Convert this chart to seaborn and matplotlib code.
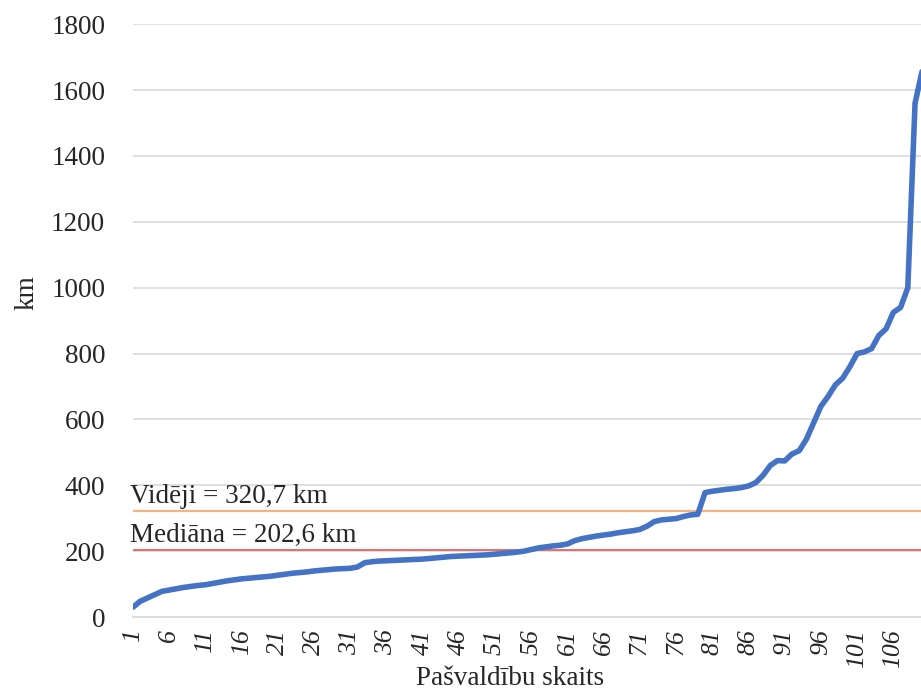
import matplotlib
matplotlib.use('Agg')
import matplotlib.pyplot as plt
import seaborn as sns
import pandas as pd

sns.set_style('white')
plt.rcParams['font.family'] = ['Liberation Serif', 'DejaVu Serif']

# sorted distances per municipality (km)
km = [30, 48, 58, 68, 78, 82, 86, 90, 93, 96,
      98, 102, 106, 110, 113, 116, 118, 120, 122, 124,
      127, 130, 133, 135, 137, 140, 142, 144, 146, 147,
      148, 152, 165, 168, 170, 171, 172, 173, 174, 175,
      176, 178, 180, 182, 184, 185, 186, 187, 188, 189,
      191, 193, 195, 197, 200, 205, 210, 213, 216, 218,
      222, 232, 238, 242, 246, 249, 252, 256, 259, 262,
      266, 276, 290, 295, 297, 299, 305, 310, 312, 378,
      382, 385, 388, 390, 393, 398, 408, 430, 460, 475,
      474, 495, 505, 540, 590, 640, 670, 705, 725, 760,
      800, 805, 815, 855, 875, 925, 940, 1000, 1560, 1660]
municipality = list(range(1, len(km) + 1))
mean_km = 320.7
median_km = 202.6
mean_label = 'Vidēji = 320,7 km'
median_label = 'Mediāna = 202,6 km'
xticks = list(range(1, 107, 5))
yticks = list(range(0, 1801, 200))

df = pd.DataFrame({'nr': municipality, 'km': km})

fig = plt.figure(figsize=(9.21, 6.91), dpi=100)
ax = fig.add_axes([0.1444, 0.107, 0.857, 0.858])

ax.set_axisbelow(True)
ax.yaxis.grid(True, color='#d9d9d9', linewidth=1.2)
ax.axhline(mean_km, color='#f4b183', linewidth=1.6, zorder=2)
ax.axhline(median_km, color='#e06666', linewidth=1.3, zorder=2)
sns.lineplot(data=df, x='nr', y='km', color='#4472c4', linewidth=4, ax=ax, zorder=3)

ax.text(0.6, mean_km + 8, mean_label, fontsize=19.5, va='bottom', ha='left')
ax.text(0.6, median_km + 8, median_label, fontsize=19.5, va='bottom', ha='left')

ax.set_xlim(1, 110)
ax.set_ylim(0, 1800)
ax.set_xticks(xticks)
ax.set_xticklabels([str(t) for t in xticks], rotation=90, style='italic', fontsize=18.5)
ax.set_yticks(yticks)
ax.set_yticklabels([str(t) for t in yticks], fontsize=19.5)
ax.tick_params(axis='y', length=0, pad=20)
ax.tick_params(axis='x', length=0, pad=9)

for s in ['top', 'right', 'left']:
    ax.spines[s].set_visible(False)
ax.spines['bottom'].set_color('#d9d9d9')
ax.spines['bottom'].set_linewidth(1.2)

ax.set_xlabel('Pašvaldību skaits', fontsize=19.5)
ax.set_ylabel('km', fontsize=19.5)
ax.xaxis.set_label_coords(0.478, -0.083)
ax.yaxis.set_label_coords(-0.118, 0.548)

fig.savefig('out.png', dpi=100)
